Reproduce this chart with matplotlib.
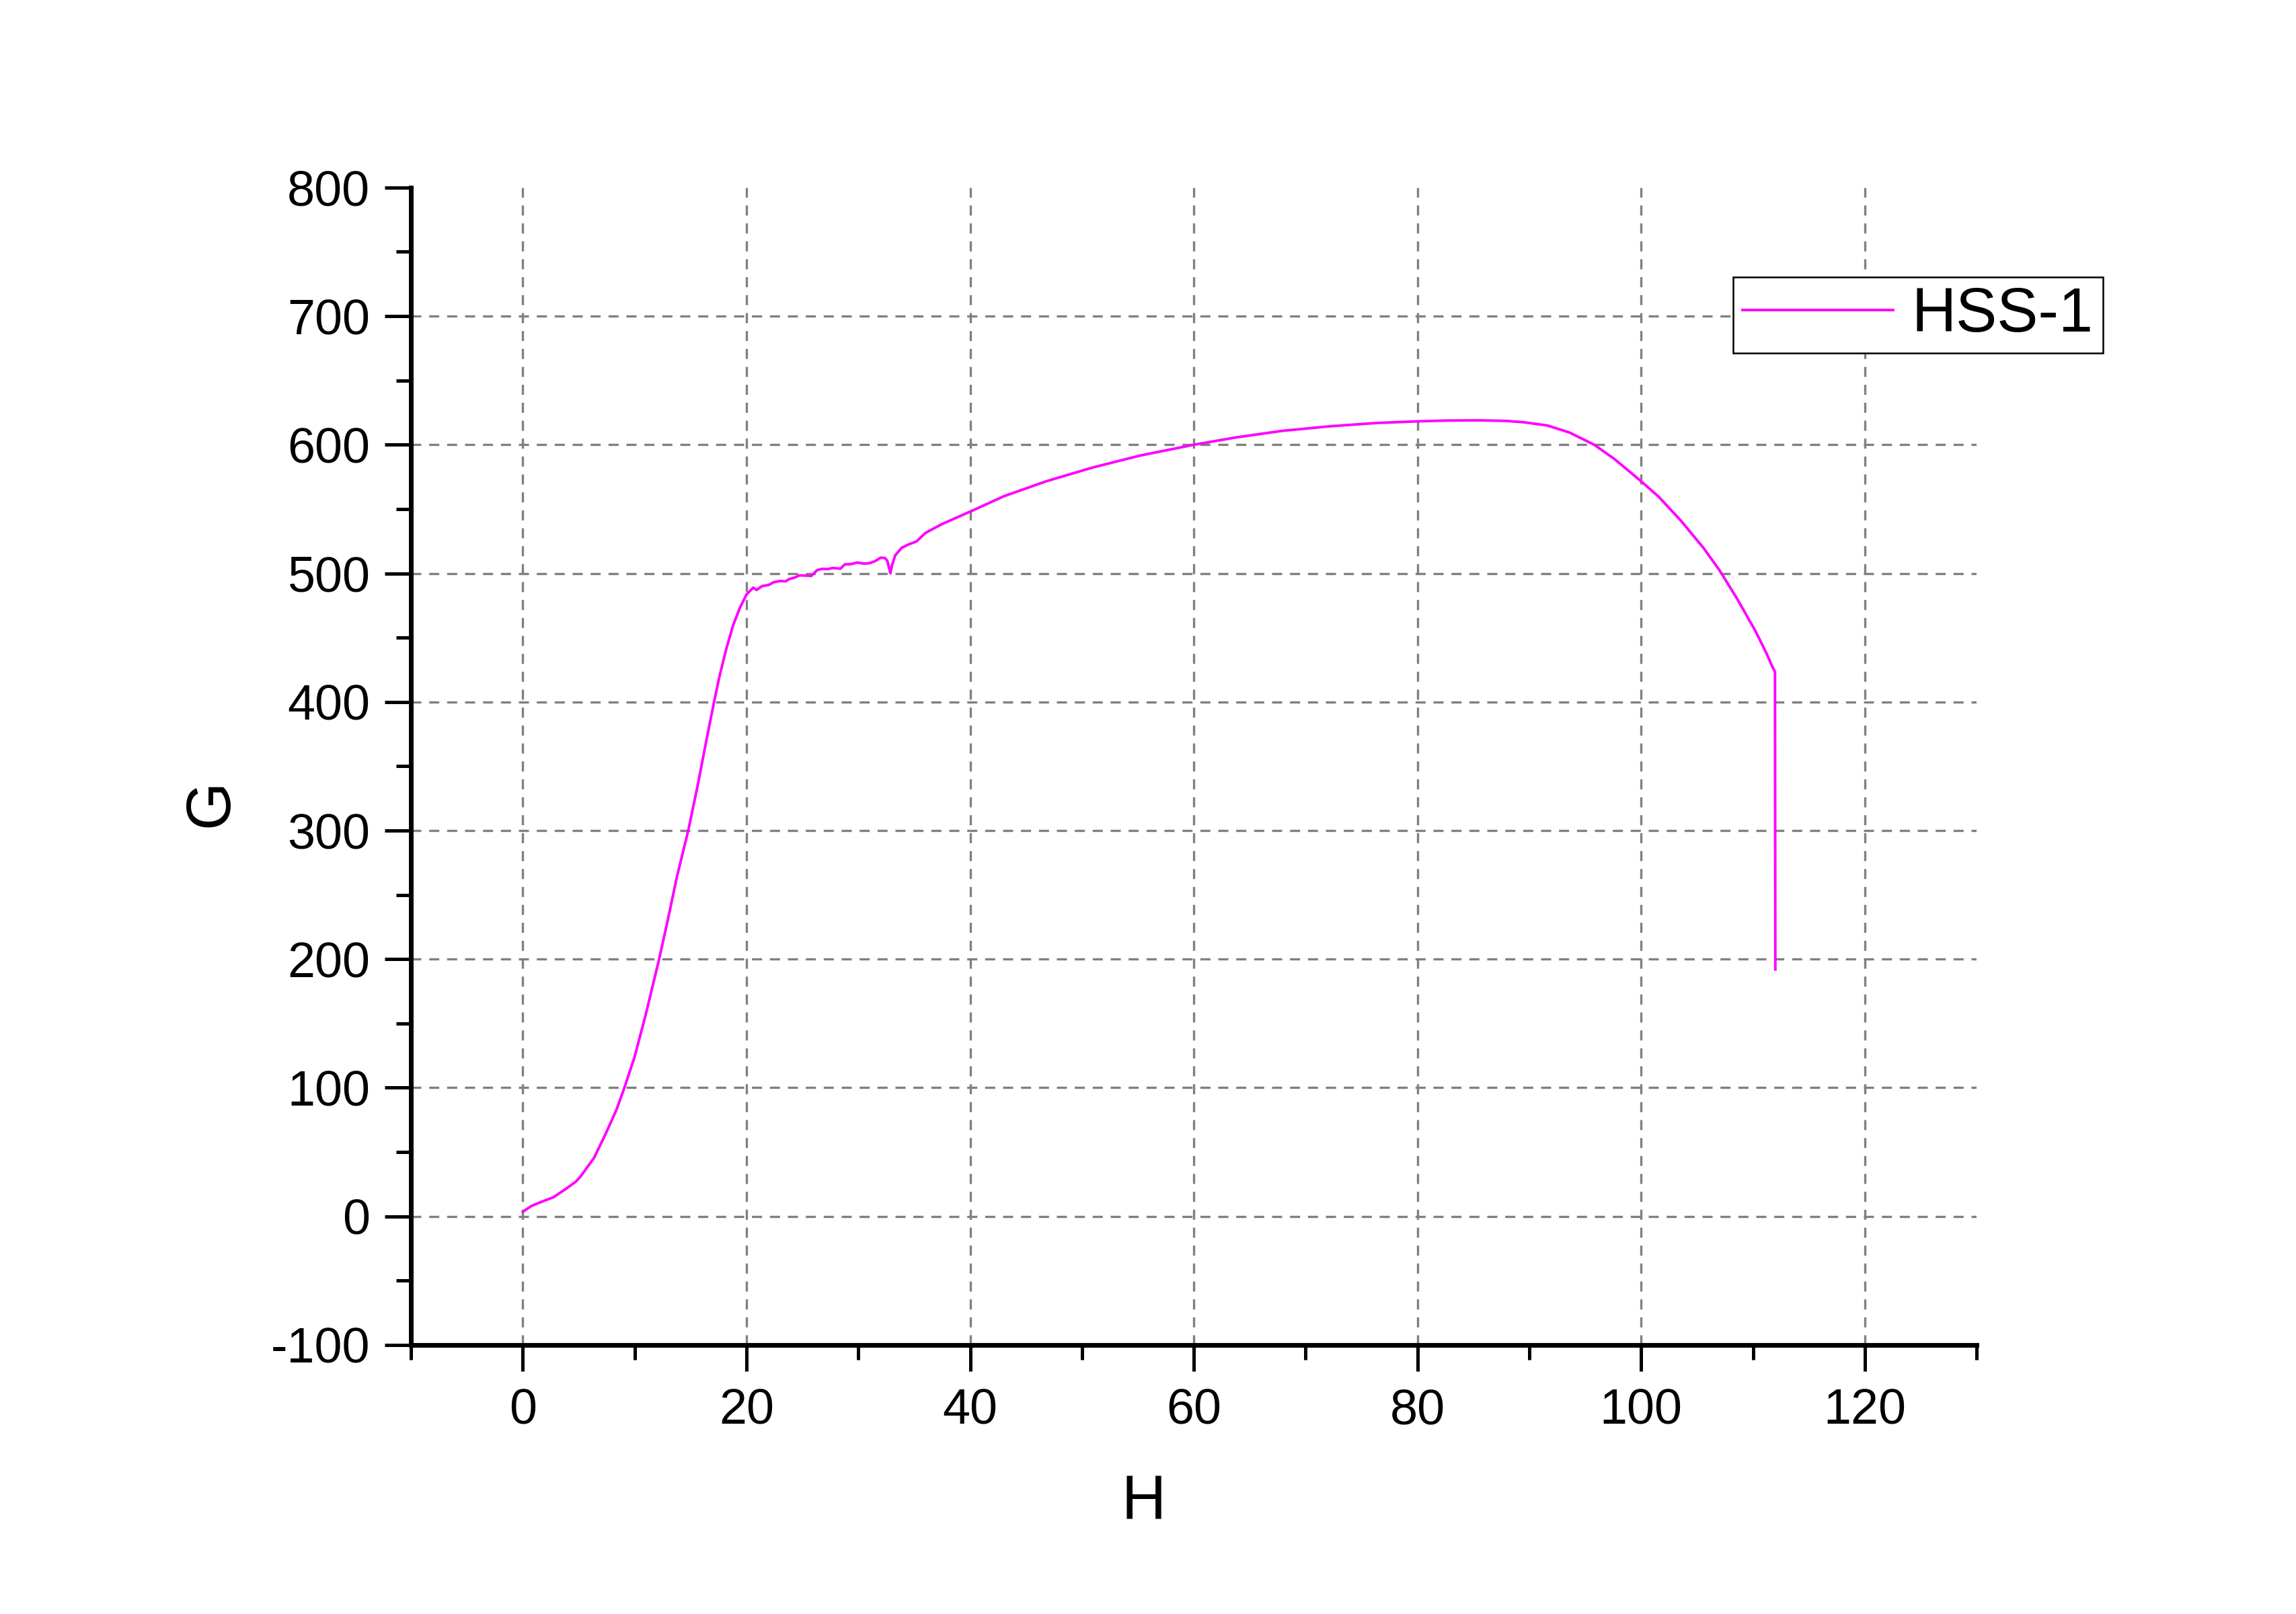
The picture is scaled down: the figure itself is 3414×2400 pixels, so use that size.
import numpy as np
import matplotlib.pyplot as plt
from matplotlib.ticker import MultipleLocator

plt.rcParams['font.family'] = ['Liberation Sans', 'DejaVu Sans']
plt.rcParams['axes.unicode_minus'] = False

# curve
H = [0, 0.76, 1.35, 2.75, 3.94, 4.74, 5.17, 6.37, 7.37, 8.38, 9.08, 9.98,
     10.98, 12.18, 12.99, 13.79, 14.79, 15.6, 16.4, 17.1, 17.6, 18.2, 18.8, 19.4,
     20.0, 20.6, 20.9, 21.4, 22.0, 22.4, 23.0, 23.5, 23.8, 24.4, 24.7, 25.2,
     25.8, 26.3, 26.75, 27.3, 27.7, 28.4, 28.8, 29.3, 29.9, 30.5, 31.0, 31.5, 32.0,
     32.4, 32.6, 32.87, 33.0, 33.3, 33.9, 34.5, 35.2, 36.0, 37.5,
     40.0, 43.0, 46.8, 51.0, 55.2, 60.0, 63.7, 67.9, 72.1, 76.3, 80.0, 82.5, 85.5,
     88.0, 89.5, 91.6, 93.6, 95.8, 97.6, 100.0, 101.6, 103.6, 105.6, 107.0,
     108.6, 110.2, 111.2, 111.7, 111.97, 112.0]
G = [3.6, 8, 10.2, 14.9, 21.9, 27, 31.1, 45.5, 63.5, 83, 100, 123.5,
     156.5, 199.7, 231.5, 264.5, 299.9, 333.5, 369.5, 400, 420.5, 441.5, 459.5, 473,
     483.5, 488.9, 487.1, 490.1, 491, 493, 494.1, 493.8, 495.5, 497, 498.4, 498.3,
     498, 502.4, 503.5, 503.3, 504.2, 503.6, 507, 507.1, 508.4, 507.6, 507.9, 509.5, 512.2,
     511.9, 509.5, 500, 505.9, 514, 520, 522.5, 524.8, 531.4, 538.4,
     548, 559.9, 571.6, 582.4, 591.6, 600, 605.6, 610.8, 614.3, 616.9, 618.2, 618.8, 619,
     618.5, 617.5, 615.0, 609.5, 600, 589, 571.6, 559.3, 540.5, 519.5, 502.5,
     480, 455.5, 438, 428, 423.5, 192]

fig = plt.figure(figsize=(34.14, 24), dpi=100)
ax = fig.add_axes([0.179, 0.1667, 0.6819, 0.7171])

ax.plot(H, G, color='#FF00FF', lw=2.8, label='HSS-1')

ax.set_xlim(-10, 130)
ax.set_ylim(-100, 800)
ax.xaxis.set_major_locator(MultipleLocator(20))
ax.xaxis.set_minor_locator(MultipleLocator(10))
ax.yaxis.set_major_locator(MultipleLocator(100))
ax.yaxis.set_minor_locator(MultipleLocator(50))

for s in ['top', 'right']:
    ax.spines[s].set_visible(False)
for s in ['left', 'bottom']:
    ax.spines[s].set_linewidth(5)

ax.tick_params(which='major', direction='out', length=28, width=3.6, labelsize=53)
ax.tick_params(which='minor', direction='out', length=16, width=3.6)
ax.tick_params(axis='x', which='major', pad=18)
ax.tick_params(axis='y', which='major', pad=16)

# dashed grid, none on the top / bottom edges
grid_kw = dict(color='#808080', linestyle=(0, (4.5, 3.5)), lw=2.4, zorder=0.5)
ax.grid(True, axis='x', which='major', **grid_kw)
for v in ax.get_yticks():
    if -100 < v < 800:
        ax.axhline(v, **grid_kw)

ax.set_xlabel('H', fontsize=66)
ax.set_ylabel('G', fontsize=66)
ax.xaxis.set_label_coords(0.4678, -0.112)
ax.yaxis.set_label_coords(-0.109, 0.468)

leg = ax.legend(loc='upper left', bbox_to_anchor=(0.8445, 0.9227), fontsize=66,
                frameon=True, fancybox=False, borderpad=0.15, handlelength=2.45,
                handletextpad=0.3, borderaxespad=0)
leg.get_frame().set_edgecolor('black')
leg.get_frame().set_linewidth(1.8)
leg.get_frame().set_alpha(None)

fig.savefig('out.png', dpi=100, facecolor='white')
